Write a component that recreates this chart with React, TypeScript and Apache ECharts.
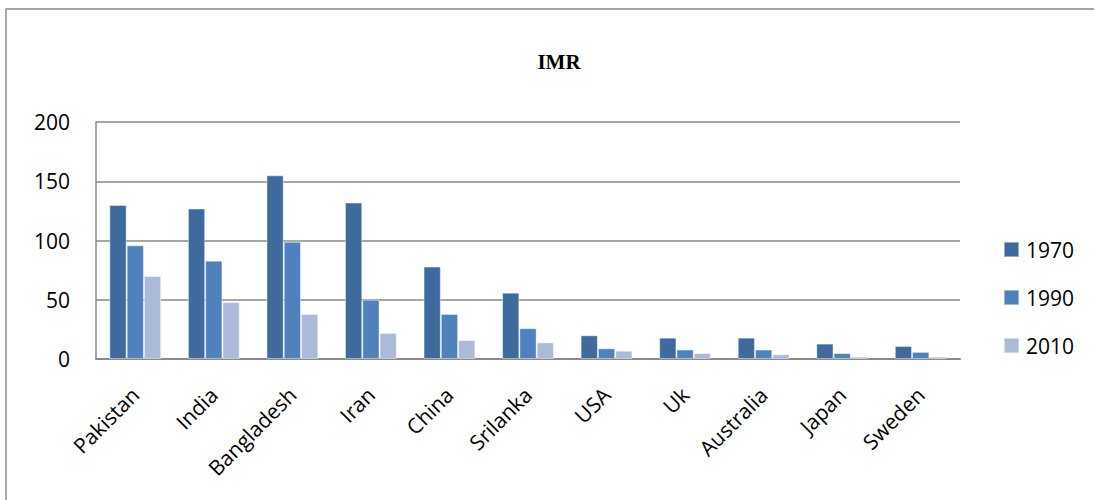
import React, { useEffect, useRef } from "react";
import * as echarts from "echarts";

const categories = ["Pakistan", "India", "Bangladesh", "Iran", "China", "Srilanka", "USA", "Uk", "Australia", "Japan", "Sweden"];
const seriesNames = ["1970", "1990", "2010"];
const values1970 = [130, 127, 155, 132, 78, 56, 20, 18, 18, 13, 11];
const values1990 = [96, 83, 99, 50, 38, 26, 9, 8, 8, 5, 6];
const values2010 = [70, 48, 38, 22, 16, 14, 7, 5, 4, 2, 2];
const colors = ["#3E6A9E", "#4F81BD", "#AABAD8"];

export default function App() {
  const ref = useRef<HTMLDivElement>(null);
  useEffect(() => {
    const chart = echarts.init(ref.current!, null, { renderer: "svg" });
    const data = [values1970, values1990, values2010];
    chart.setOption({
      animation: false,
      backgroundColor: "#ffffff",
      title: {
        text: "IMR",
        left: 554,
        top: 46,
        textAlign: "center",
        textStyle: { fontFamily: "Liberation Serif", fontWeight: "bold", fontSize: 21, color: "#000" },
      },
      graphic: [
        {
          type: "rect",
          shape: { x: 6, y: 9, width: 1200, height: 600 },
          style: { fill: "none", stroke: "#8a8a8a", lineWidth: 1.5 },
          silent: true,
        },
      ],
      legend: {
        orient: "vertical",
        left: 998,
        top: 234,
        itemWidth: 15,
        itemHeight: 15,
        itemGap: 27,
        icon: "rect",
        textStyle: { fontFamily: "Open Sans", fontSize: 21, color: "#000", padding: [0, 0, 0, 2] },
        data: seriesNames,
      },
      grid: { left: 96, right: 134, top: 122, bottom: 141 },
      xAxis: {
        type: "category",
        data: categories,
        axisLine: { show: true, lineStyle: { color: "#8a8a8a", width: 2 } },
        axisTick: { show: false },
        axisLabel: {
          rotate: 45,
          interval: 0,
          margin: 32,
          fontFamily: "Open Sans",
          fontSize: 21,
          color: "#000",
        },
      },
      yAxis: {
        type: "value",
        min: 0,
        max: 200,
        interval: 50,
        axisLine: { show: true, lineStyle: { color: "#8a8a8a", width: 1.5 } },
        axisTick: { show: false },
        splitLine: { lineStyle: { color: "#8a8a8a", width: 1.5 } },
        axisLabel: { margin: 26, fontFamily: "Open Sans", fontSize: 21, color: "#000" },
      },
      series: seriesNames.map((name, i) => ({
        name,
        type: "bar",
        data: data[i],
        barGap: "0%",
        barCategoryGap: "34%",
        itemStyle: { color: colors[i], borderColor: "rgba(255,255,255,0.45)", borderWidth: 1 },
      })),
    });
    return () => chart.dispose();
  }, []);
  return <div ref={ref} style={{ position: "absolute", left: 0, top: 0, width: 1094, height: 500 }} />;
}
